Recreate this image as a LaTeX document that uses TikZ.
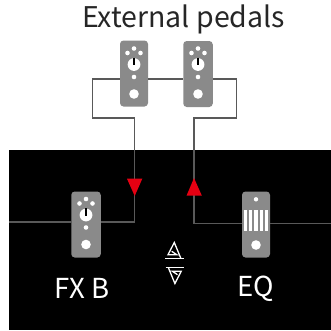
\documentclass[tikz,border=0pt]{standalone}
\usepackage{fontspec}
\setmainfont{Noto Sans CJK JP}
\usetikzlibrary{positioning, calc}

\definecolor{wiregray}{HTML}{595959}
\definecolor{pedalgray}{HTML}{8A8A8A}
\definecolor{arrowred}{HTML}{E60012}

\tikzset{
  pedal/.style={fill=pedalgray, rounded corners=3.5pt, inner sep=0pt,
                minimum width=28pt, minimum height=66pt},
  wire/.style={draw=wiregray, line width=1.2pt},
  label/.style={font=\fontsize{27.5}{27.5}\selectfont, inner sep=0pt},
  hole/.style={fill=white},
  updown/.style={draw=white, line width=1.3pt}
}

\begin{document}
\begin{tikzpicture}[x=1pt, y=-1pt]

  \useasboundingbox (0, 0) rectangle (331, 330);

  %% ── Black panel ────────────────────────────────────────────
  \fill[black] (9, 150) rectangle (331, 330);

  %% ── Labels ─────────────────────────────────────────────────
  \node[label, text=black!85, font=\fontsize{28.5}{28.5}\selectfont] (title) at (183.5, 19.5) {External pedals};
  \node[label, text=white] (fxlabel) at (82, 288) {FX B};
  \node[label, text=white] (eqlabel) at (255.5, 288.5) {EQ};

  %% ── Pedals ─────────────────────────────────────────────────
  \node[pedal] (pedalA) at (134, 73.5) {};
  \node[pedal, minimum width=29.5pt] (pedalB) at (198, 74) {};
  \node[pedal, minimum width=29.5pt] (pedalfx) at (86, 224.5) {};
  \node[pedal] (pedaleq) at (256, 224.5) {};

  %% ── Wires ──────────────────────────────────────────────────
  \coordinate (leftend) at (9, 222);
  \coordinate (rightend) at (331, 223.5);
  \coordinate (sendup) at (134.7, 118);
  \coordinate (returnup) at (194, 118);
  \draw[wire] (pedalA.west |- 0, 79) -- (92.7, 79) -- (92.7, 118) -- (sendup)
    -- (134.7, 222) -- (pedalfx.east |- 0, 222);
  \draw[wire] (pedalfx.west |- 0, 222) -- (leftend);
  \draw[wire] (pedalA.east |- 0, 79) -- (pedalB.west |- 0, 79);
  \draw[wire] (pedalB.east |- 0, 79) -- (236.5, 79) -- (236.5, 118) -- (returnup)
    -- (194, 223.5) -- (pedaleq.west |- 0, 223.5);
  \draw[wire] (pedaleq.east |- 0, 223.5) -- (rightend);

  %% ── Arrow heads ────────────────────────────────────────────
  \fill[arrowred] (127, 178.7) -- (142.3, 178.7) -- (134.7, 196) -- cycle;
  \fill[arrowred] (186.6, 195.5) -- (201.8, 195.5) -- (194, 178) -- cycle;

  %% ── Pedal faces ────────────────────────────────────────────
  % Pedal A
  \def\xped{134}
  \def\yped{41}
  \fill[hole] (\xped, \yped+7.5) circle (2.3);
  \fill[hole] (\xped-6.5, \yped+12) circle (2.3);
  \fill[hole] (\xped+6.5, \yped+12) circle (2.3);
  \fill[hole] (\xped, \yped+23.5) circle (6.4);
  \draw[black, line width=1.1pt] (\xped, \yped+16.5) -- (\xped, \yped+24);
  \fill[hole] (\xped, \yped+36) circle (2.3);
  \fill[hole] (\xped, \yped+53) circle (4.8);

  % Pedal B
  \def\xped{198}
  \def\yped{41}
  \fill[hole] (\xped, \yped+7.5) circle (2.3);
  \fill[hole] (\xped-6.5, \yped+12) circle (2.3);
  \fill[hole] (\xped+6.5, \yped+12) circle (2.3);
  \fill[hole] (\xped, \yped+23.5) circle (6.4);
  \draw[black, line width=1.1pt] (\xped, \yped+16.5) -- (\xped, \yped+24);
  \fill[hole] (\xped, \yped+36) circle (2.3);
  \fill[hole] (\xped, \yped+53) circle (4.8);

  % Pedal FX B
  \def\xped{86}
  \def\yped{191.5}
  \fill[hole] (\xped, \yped+7.5) circle (2.3);
  \fill[hole] (\xped-6.5, \yped+12) circle (2.3);
  \fill[hole] (\xped+6.5, \yped+12) circle (2.3);
  \fill[hole] (\xped, \yped+23.5) circle (6.4);
  \draw[black, line width=1.1pt] (\xped, \yped+16.5) -- (\xped, \yped+24);
  \fill[hole] (\xped, \yped+36) circle (2.3);
  \fill[hole] (\xped, \yped+53) circle (4.8);

  % Pedal EQ
  \def\xped{256}
  \fill[hole] (\xped, 199.3) circle (2.2);
  \foreach \xbar in {-10.4, -5.2, 0, 5.2, 10.4} {
    \fill[hole] (\xped+\xbar-1.6, 210) rectangle (\xped+\xbar+1.6, 231);
  }
  \fill[hole] (\xped, 245) circle (4.8);

  %% ── Up / down mark ─────────────────────────────────────────
  \draw[updown] (165, 258.2) -- (184, 258.2);
  \draw[updown] (180.7, 258) -- (174.3, 242.5) -- (168, 254.7) -- (176.7, 254.7) -- (171.7, 251.3);
  \draw[updown] (165.5, 267.6) -- (184.3, 267.6);
  \draw[updown] (168.5, 268) -- (174.9, 283.5) -- (181.2, 271.3) -- (172.5, 271.3) -- (177.5, 274.7);

\end{tikzpicture}
\end{document}
